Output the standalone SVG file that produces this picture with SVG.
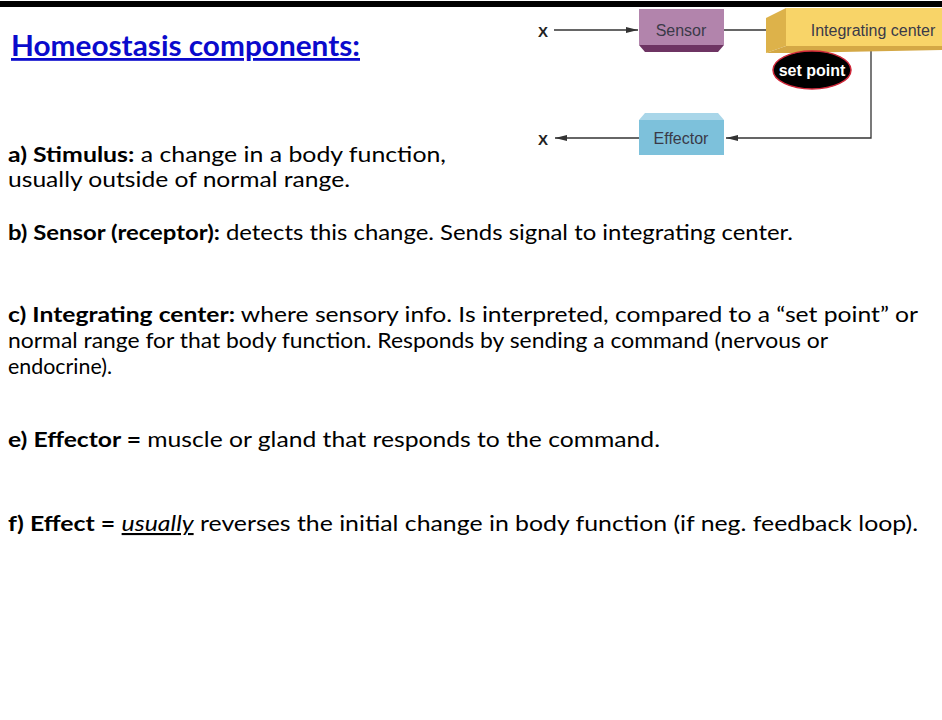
<svg xmlns="http://www.w3.org/2000/svg" width="942" height="720" viewBox="0 0 942 720">
<defs>
<style>
.t{font-family:Lato,"Open Sans","Liberation Sans",sans-serif;font-size:21px;fill:#000}
.b{font-weight:bold}
.title{font-family:Lato,"Open Sans","Liberation Sans",sans-serif;font-size:28px;font-weight:bold;fill:#0A0ACC;text-decoration:underline}
.lbl{font-family:"Liberation Sans",Arial,sans-serif;font-size:16px;fill:#3a3a48;text-anchor:middle}
.sp{font-family:"Liberation Sans",Arial,sans-serif;font-size:16px;font-weight:bold;fill:#fff;text-anchor:middle}
.x{font-family:"Liberation Sans",Arial,sans-serif;font-size:15px;font-weight:bold;fill:#222;text-anchor:middle}
.conn{stroke:#333;stroke-width:1.3;fill:none}
</style>
<marker id="ah" viewBox="0 0 12 6" refX="12" refY="3" markerWidth="12" markerHeight="6" markerUnits="userSpaceOnUse" orient="auto"><path d="M0,0 L12,3 L0,6 z" fill="#333"/></marker>
</defs>
<rect width="942" height="720" fill="#fff"/>
<rect x="0" y="1" width="942" height="6" fill="#000"/>

<g id="title"><text class="title" x="11" y="56" textLength="349" lengthAdjust="spacingAndGlyphs">Homeostasis components:</text></g>

<g id="text">
<text class="t" x="8" y="162" textLength="438" lengthAdjust="spacingAndGlyphs"><tspan class="b">a) Stimulus:</tspan> a change in a body function,</text>
<text class="t" x="8" y="187" textLength="342" lengthAdjust="spacingAndGlyphs">usually outside of normal range.</text>
<text class="t" x="8" y="240" textLength="785" lengthAdjust="spacingAndGlyphs"><tspan class="b">b) Sensor (receptor):</tspan> detects this change. Sends signal to integrating center.</text>
<text class="t" x="8" y="322" textLength="910" lengthAdjust="spacingAndGlyphs"><tspan class="b">c) Integrating center:</tspan> where sensory info. Is interpreted, compared to a “set point” or</text>
<text class="t" x="8" y="348" textLength="820" lengthAdjust="spacingAndGlyphs">normal range for that body function. Responds by sending a command (nervous or</text>
<text class="t" x="8" y="374" textLength="104" lengthAdjust="spacingAndGlyphs">endocrine).</text>
<text class="t" x="8" y="447" textLength="652" lengthAdjust="spacingAndGlyphs"><tspan class="b">e) Effector =</tspan> muscle or gland that responds to the command.</text>
<text class="t" x="8" y="531" textLength="910" lengthAdjust="spacingAndGlyphs"><tspan class="b">f) Effect =</tspan> <tspan style="font-style:italic;text-decoration:underline">usually</tspan> reverses the initial change in body function (if neg. feedback loop).</text>
</g>

<g id="connectors">
<line class="conn" x1="554" y1="30" x2="638" y2="30" marker-end="url(#ah)"/>
<line class="conn" x1="724" y1="30" x2="786" y2="30" marker-end="url(#ah)"/>
<polyline class="conn" points="871,48 871,138 726,138" marker-end="url(#ah)"/>
<line class="conn" x1="639" y1="138" x2="555" y2="138" marker-end="url(#ah)"/>
</g>

<g id="x-in"><text class="x" x="543" y="37">X</text></g>
<g id="x-out"><text class="x" x="543" y="145">X</text></g>

<g id="sensor">
<rect x="639" y="9" width="85" height="36" fill="#B284AC"/>
<polygon points="639,45 724,45 718,52 645,52" fill="#6E3463"/>
<text class="lbl" x="681" y="36">Sensor</text>
</g>

<g id="integrating-center">
<polygon points="766,18 786,8 786,46 766,53" fill="#DDB24A"/>
<polygon points="766,53 786,46 942,46 942,50 790,53" fill="#D4A845"/>
<rect x="786" y="8" width="156" height="38" fill="#F8D468"/>
<text class="lbl" x="873" y="36">Integrating center</text>
</g>

<g id="set-point">
<ellipse cx="812" cy="70" rx="39" ry="19" fill="#000" stroke="#D0283A" stroke-width="1.5"/>
<text class="sp" x="812" y="76">set point</text>
</g>

<g id="effector">
<polygon points="645,113 718,113 724,120 639,120" fill="#A9D6E9"/>
<rect x="639" y="120" width="85" height="35" fill="#7DC1DB"/>
<text class="lbl" x="681" y="144">Effector</text>
</g>
</svg>
